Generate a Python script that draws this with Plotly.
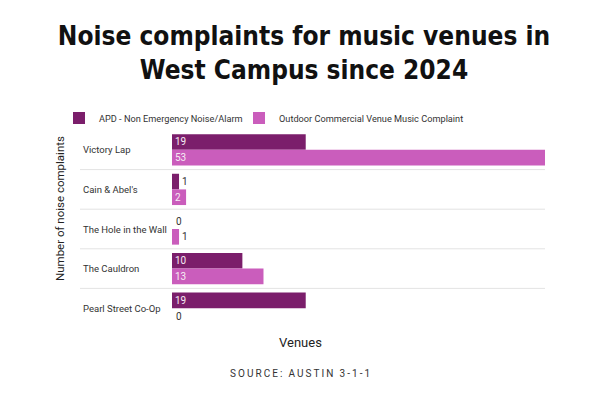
import plotly.graph_objects as go

venues = ["Victory Lap", "Cain & Abel's", "The Hole in the Wall", "The Cauldron", "Pearl Street Co-Op"]
apd = [19, 1, 0, 10, 19]
outdoor = [53, 2, 1, 13, 0]
series_names = ["APD - Non Emergency Noise/Alarm", "Outdoor Commercial Venue Music Complaint"]
colors = ["#7b1e6b", "#ca5dbc"]

OFF = 8  # page body margin
W, H = 600 - OFF, 399 - OFF
L, R, T, B = 172 - OFF, 55, 130 - OFF, 399 - 328
pw, ph = W - L - R, H - T - B

def px_x(x):
    return (x - OFF - L) / pw

def px_y(y):
    return (H - B - (y - OFF)) / ph

fig = go.Figure()
legend_ids = ["legend", "legend2"]
for name, vals, col, lg in zip(series_names, [apd, outdoor], colors, legend_ids):
    fig.add_trace(go.Bar(
        y=venues, x=vals, name=name, orientation="h", legend=lg,
        marker=dict(color=col, line=dict(width=0)),
        text=[str(v) for v in vals], textposition="auto",
        insidetextanchor="start",
        insidetextfont=dict(family="Roboto", size=10, color="#f6ecf4"),
        outsidetextfont=dict(family="Roboto", size=10, color="#333333"),
        constraintext="none", cliponaxis=False,
    ))

shapes = []
for i in range(len(venues) - 1):
    shapes.append(dict(type="line", xref="paper", yref="y",
                       x0=px_x(80), x1=1, y0=i + 0.5, y1=i + 0.5,
                       line=dict(color="#e3e3e3", width=1)))

annotations = []
for v in venues:
    annotations.append(dict(text=v, xref="paper", yref="y", x=px_x(81), y=v,
                            xanchor="left", yanchor="middle", showarrow=False,
                            font=dict(family="Roboto", size=9.5, color="#333333")))
# labels for zero-length bars (plotly skips their text)
for s, vals in enumerate([apd, outdoor]):
    for v, val in zip(venues, vals):
        if val == 0:
            annotations.append(dict(text=str(val), xref="x", yref="y", x=val, y=v,
                                    xanchor="left", yanchor="middle", showarrow=False,
                                    xshift=2, yshift=8 if s == 0 else -8,
                                    font=dict(family="Roboto", size=10, color="#333333")))
annotations.append(dict(text="Number of noise complaints", xref="paper", yref="paper",
                        x=px_x(60), y=px_y(209), textangle=-90, showarrow=False,
                        xanchor="center", yanchor="middle",
                        font=dict(family="Roboto", size=11.5, color="#222222")))
annotations.append(dict(text="Venues", xref="paper", yref="paper",
                        x=px_x(300), y=px_y(342), showarrow=False,
                        xanchor="center", yanchor="middle",
                        font=dict(family="Roboto", size=13, color="#222222")))
src = "SOURCE: AUSTIN 3-1-1"
src_spaced = "\u2009".join(ch if ch != " " else "\u2009" for ch in src)
annotations.append(dict(text=src_spaced, xref="paper", yref="paper",
                        x=px_x(300), y=px_y(373), showarrow=False,
                        xanchor="center", yanchor="middle",
                        font=dict(family="Roboto", size=10, color="#333333")))

legend_style = dict(orientation="h", y=px_y(118), xanchor="left", yanchor="middle",
                    font=dict(family="Roboto", size=9.2, color="#333333"),
                    itemwidth=30, bgcolor="rgba(0,0,0,0)")

fig.update_layout(
    width=W, height=H,
    margin=dict(l=L, r=R, t=T, b=B),
    paper_bgcolor="white", plot_bgcolor="white",
    barmode="group", bargap=0.21, bargroupgap=0,
    title=dict(text="<b>Noise complaints for music venues in<br>West Campus since 2024</b>",
               x=0.5, xref="container", xanchor="center",
               y=1 - 37 / H, yref="container", yanchor="top",
               font=dict(family="DejaVu Sans Condensed", size=26, color="#111111")),
    xaxis=dict(range=[0, max(outdoor)], showgrid=False, zeroline=False,
               showticklabels=False, ticks="", showline=False, fixedrange=True),
    yaxis=dict(autorange="reversed", showgrid=False, showticklabels=False,
               ticks="", showline=False, zeroline=False),
    showlegend=True,
    legend=dict(x=px_x(59), **legend_style),
    legend2=dict(x=px_x(239), **legend_style),
    shapes=shapes, annotations=annotations,
)

fig.write_html("out.html")
